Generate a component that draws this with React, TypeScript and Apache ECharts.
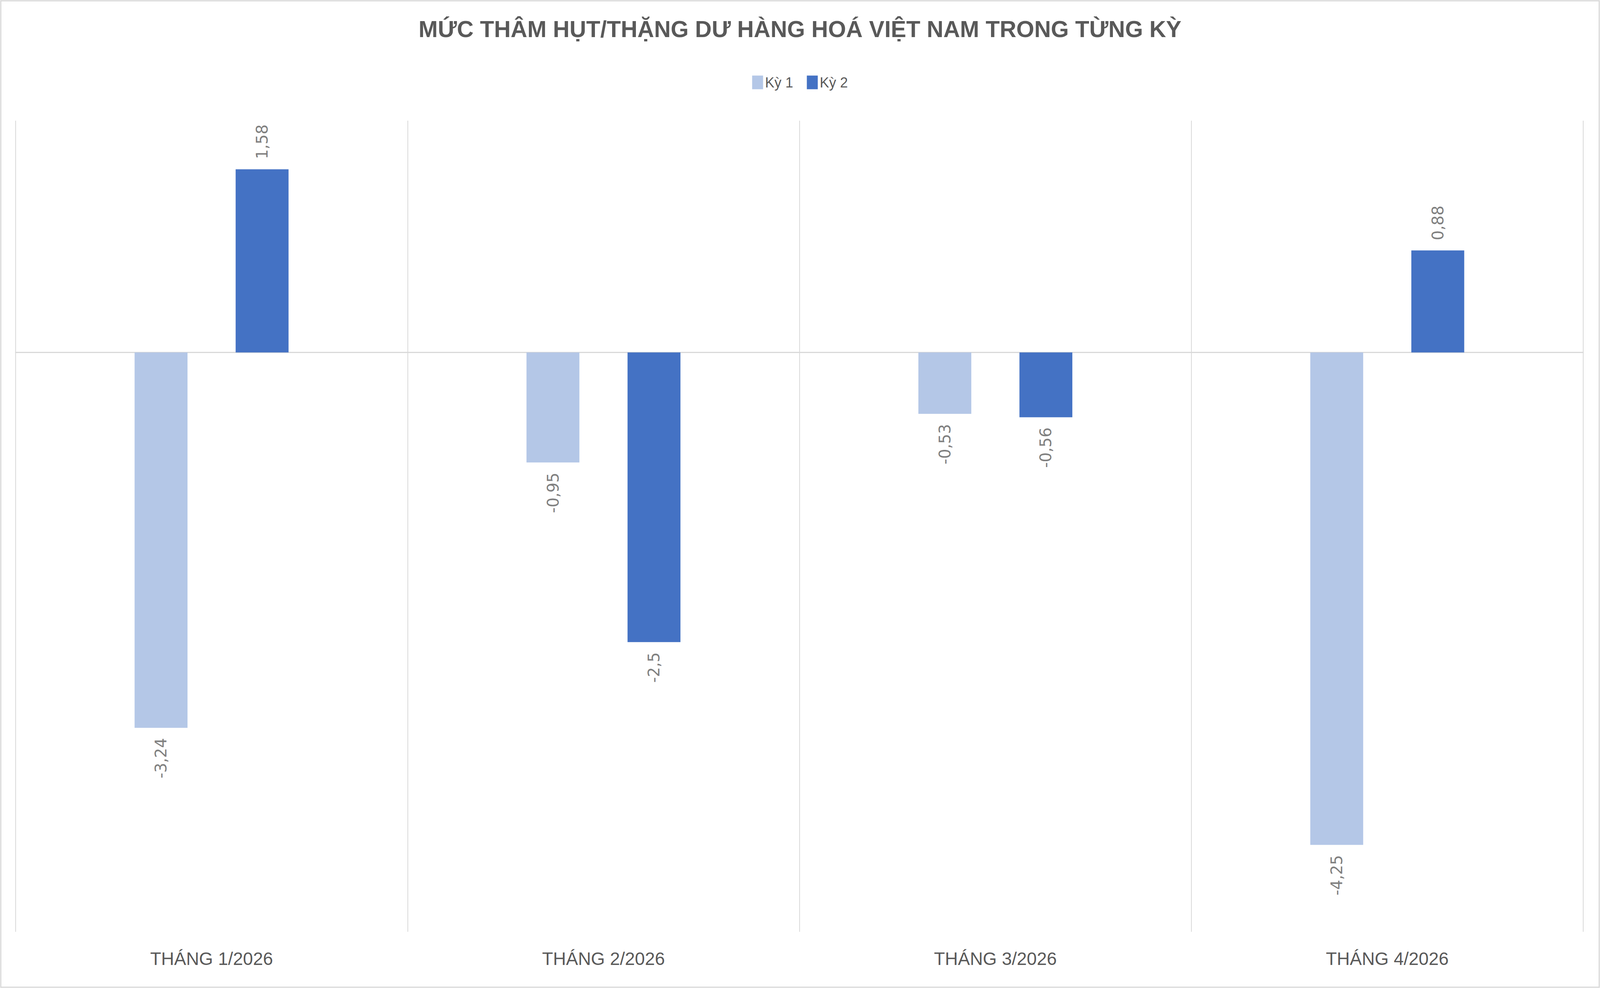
import * as echarts from 'echarts';
import { useEffect, useRef } from 'react';

const categories = ['THÁNG 1/2026', 'THÁNG 2/2026', 'THÁNG 3/2026', 'THÁNG 4/2026'];
const seriesNames = ['Kỳ 1', 'Kỳ 2'];
const ky1Values = [-3.24, -0.95, -0.53, -4.25];
const ky2Values = [1.58, -2.5, -0.56, 0.88];
const seriesColors = ['#B4C7E7', '#4472C4'];
const titleText = 'MỨC THÂM HỤT/THẶNG DƯ HÀNG HOÁ VIỆT NAM TRONG TỪNG KỲ';

// kích thước gốc của hình mẫu, mọi vị trí được co theo khung thật
const BASE_W = 5655;
const BASE_H = 2530;

// nhãn xoay dọc: dương thì đọc lên từ đỉnh cột, âm thì kết thúc ở đáy cột
const toBarData = (values: number[]) =>
  values.map(v => ({ value: v, label: { align: v >= 0 ? 'left' : 'right' } }));

export default function App() {
  const chartRef = useRef<HTMLDivElement>(null);

  useEffect(() => {
    const el = chartRef.current;
    if (!el) return;
    const chart = echarts.init(el, undefined, { renderer: 'svg' });

    const W = el.clientWidth || BASE_W;
    const H = el.clientHeight || BASE_H;
    const sx = W / BASE_W;
    const sy = H / BASE_H;
    const fs = Math.min(sx, sy);
    const X = (v: number) => Math.round(v * sx);
    const Y = (v: number) => Math.round(v * sy);
    const F = (v: number) => Math.round(v * fs);

    const gridColor = '#D9D9D9';
    const barLabel = {
      show: true,
      position: 'outside',
      rotate: 90,
      verticalAlign: 'middle',
      distance: Y(26),
      color: '#7F7F7F',
      fontSize: Y(40),
      fontFamily: 'DejaVu Sans',
      formatter: (p: { value: number }) => String(p.value).replace('.', ','),
    };

    chart.setOption({
      animation: false,
      backgroundColor: '#ffffff',
      title: {
        text: titleText,
        left: 'center',
        top: Y(40),
        textStyle: { color: '#595959', fontSize: F(82), fontWeight: 'bold', fontFamily: 'Liberation Sans' },
      },
      legend: {
        data: seriesNames,
        top: Y(188),
        left: 'center',
        itemWidth: X(38),
        itemHeight: Y(35),
        itemGap: X(49),
        icon: 'rect',
        textStyle: { color: '#595959', fontSize: F(50), fontFamily: 'Liberation Sans' },
      },
      graphic: [
        {
          type: 'rect',
          shape: { x: 2, y: 2, width: W - 4, height: H - 4 },
          style: { fill: 'none', stroke: gridColor, lineWidth: 3 },
          silent: true,
        },
      ],
      grid: { left: X(55), right: X(60), top: Y(309), bottom: Y(144), containLabel: false },
      xAxis: [
        {
          type: 'category',
          data: categories,
          position: 'bottom',
          axisLine: { show: false, onZero: false },
          axisTick: { show: false },
          axisLabel: { color: '#595959', fontSize: F(64), fontFamily: 'Liberation Sans', margin: Y(46), interval: 0 },
          splitLine: { show: true, interval: 0, lineStyle: { color: gridColor, width: 2 } },
        },
        {
          type: 'category',
          data: categories,
          axisLine: { show: true, onZero: true, lineStyle: { color: gridColor, width: 3 } },
          axisTick: { show: false },
          axisLabel: { show: false },
          splitLine: { show: false },
        },
      ],
      yAxis: {
        type: 'value',
        min: -5,
        max: 2,
        interval: 1,
        axisLine: { show: false },
        axisTick: { show: false },
        axisLabel: { show: false },
        splitLine: { show: false },
      },
      series: [
        {
          name: seriesNames[0],
          type: 'bar',
          data: toBarData(ky1Values),
          barWidth: '13.5%',
          barGap: '91%',
          itemStyle: { color: seriesColors[0] },
          label: barLabel,
        },
        {
          name: seriesNames[1],
          type: 'bar',
          data: toBarData(ky2Values),
          barWidth: '13.5%',
          barGap: '91%',
          itemStyle: { color: seriesColors[1] },
          label: barLabel,
        },
      ],
    });

    return () => chart.dispose();
  }, []);

  return (
    <div
      ref={chartRef}
      style={{ position: 'fixed', left: 0, top: 0, width: '100vw', height: '100vh' }}
    />
  );
}
